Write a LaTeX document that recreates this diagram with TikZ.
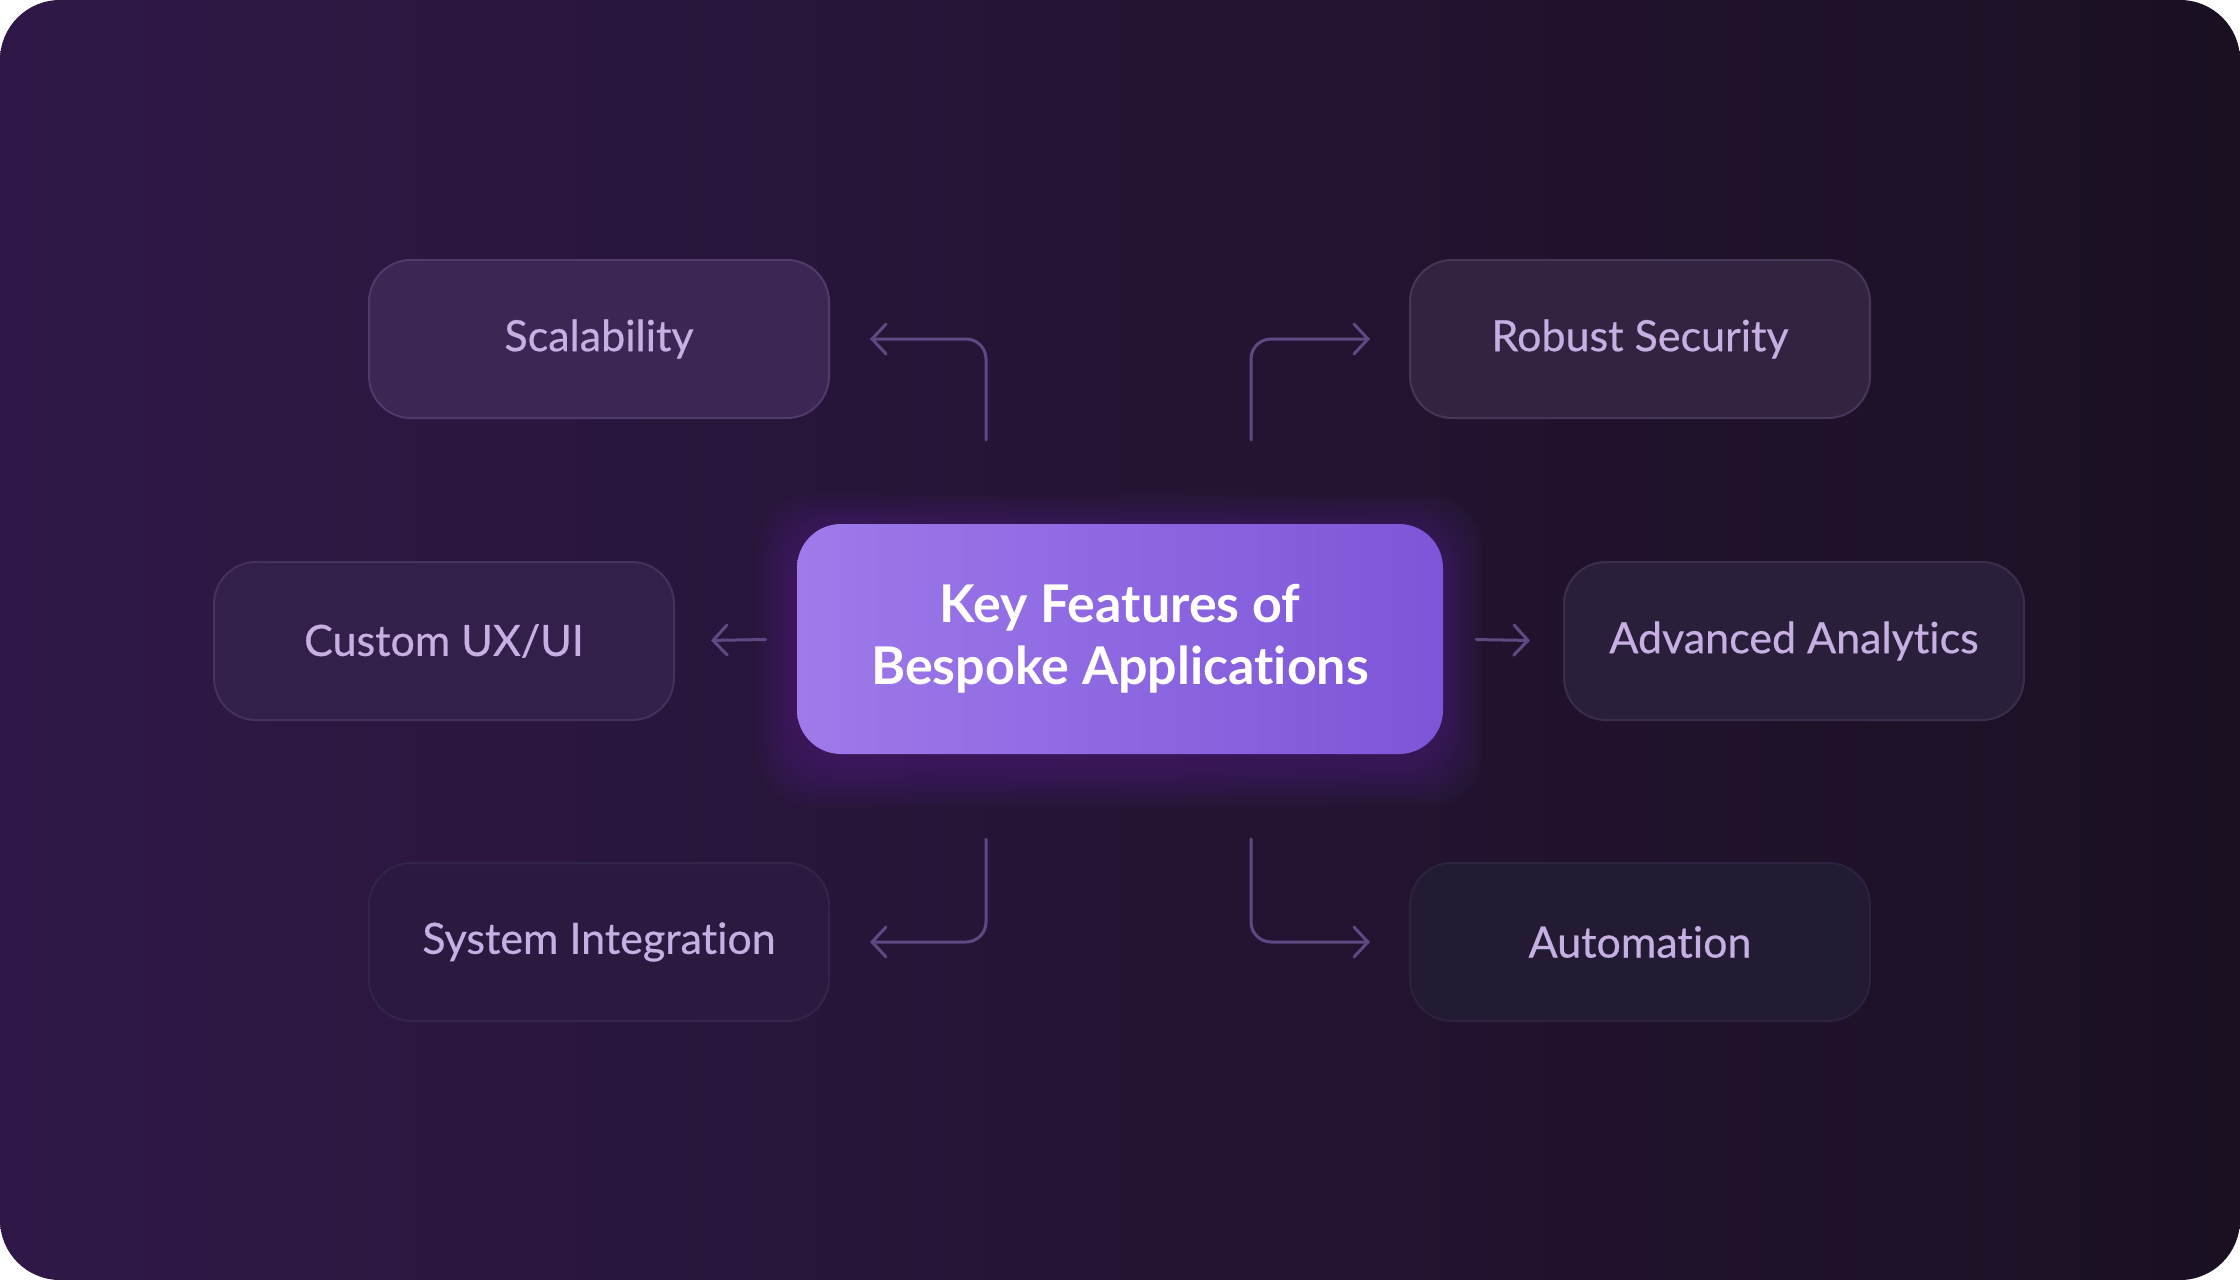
\documentclass[tikz,border=0pt]{standalone}
\usepackage{fontspec}
\setmainfont{Lato}[Ligatures=NoCommon]
\newfontfamily\featfont[FakeBold=0.5,Ligatures=NoCommon]{Lato}
\newcommand{\tinolig}{t\kern0pt i}
\usetikzlibrary{arrows.meta}
\definecolor{bgL}{HTML}{2F1847}
\definecolor{bgR}{HTML}{1A1022}
\definecolor{txt}{HTML}{C6AFE2}
\definecolor{conncol}{HTML}{5E4A82}
\definecolor{hubL}{HTML}{9E7AEA}
\definecolor{hubR}{HTML}{7D55D8}
\definecolor{glowc}{HTML}{7A55D0}
\definecolor{f1}{HTML}{3C2653}\definecolor{d1}{HTML}{4F3B68}
\definecolor{f2}{HTML}{322340}\definecolor{d2}{HTML}{463658}
\definecolor{f3}{HTML}{33204A}\definecolor{d3}{HTML}{44315C}
\definecolor{f4}{HTML}{2A1F3B}\definecolor{d4}{HTML}{3A2E4C}
\definecolor{f5}{HTML}{2A1A3F}\definecolor{d5}{HTML}{33244A}
\definecolor{f6}{HTML}{231A33}\definecolor{d6}{HTML}{2C2340}
\tikzset{
  feat/.style={draw, line width=1pt, rounded corners=21pt, minimum width=230pt,
    minimum height=79pt, text=txt, font=\featfont\fontsize{21.5}{26}\selectfont},
  hub/.style={rounded corners=22pt, minimum width=323pt, minimum height=115pt,
    align=center, text=white, font=\bfseries\fontsize{26}{31}\selectfont,
    left color=hubL, right color=hubR},
  conn/.style={draw=conncol, line width=1.5pt, line cap=round, rounded corners=10pt,
    -{Straight Barb[length=7pt,width=15pt,line cap=round]}},
}
\begin{document}
\begin{tikzpicture}[x=0.5pt,y=-0.5pt]
\fill[white] (0,0) rectangle (2240,1280);
\useasboundingbox (0,0) rectangle (2240,1280);
\shade[left color=bgL, right color=bgR, rounded corners=30pt] (0,0) rectangle (2240,1280);
% soft glow behind the hub
\foreach \i in {1,...,20}{
  \fill[glowc, opacity=0.014, rounded corners=26pt]
    (797-\i*2, 534-\i*2) rectangle (1443+\i*2, 764+\i*2.2);
}
\node[hub] (c) at (1120,639) {Key Features of\\Bespoke Applica\tinolig ons};
\node[feat, fill=f1, draw=d1] (scal) at (599,339) {Scalability};
\node[feat, fill=f2, draw=d2] (rob)  at (1640,339) {Robust Security};
\node[feat, fill=f3, draw=d3] (cust) at (444,641) {Custom UX/UI};
\node[feat, fill=f4, draw=d4] (adv)  at (1794,641) {Advanced Analy\tinolig cs};
\node[feat, fill=f5, draw=d5] (sys)  at (599,942) {System Integra\tinolig on};
\node[feat, fill=f6, draw=d6] (auto) at (1640,942) {Automa\tinolig on};
\coordinate (a1) at (986,440);
\coordinate (a2) at (1251,440);
\coordinate (a5) at (986,839);
\coordinate (a6) at (1251,839);
\draw[conn, shorten >=20pt] (a1) |- (scal.east);
\draw[conn, shorten >=19.5pt] (a2) |- (rob.west);
\draw[conn, shorten <=15.5pt, shorten >=18pt] (c.west) -- (cust.east);
\draw[conn, shorten <=16.5pt, shorten >=16.5pt] (c.east) -- (adv.west);
\draw[conn, shorten >=20pt] (a5) |- (sys.east);
\draw[conn, shorten >=19.5pt] (a6) |- (auto.west);
\end{tikzpicture}
\end{document}
